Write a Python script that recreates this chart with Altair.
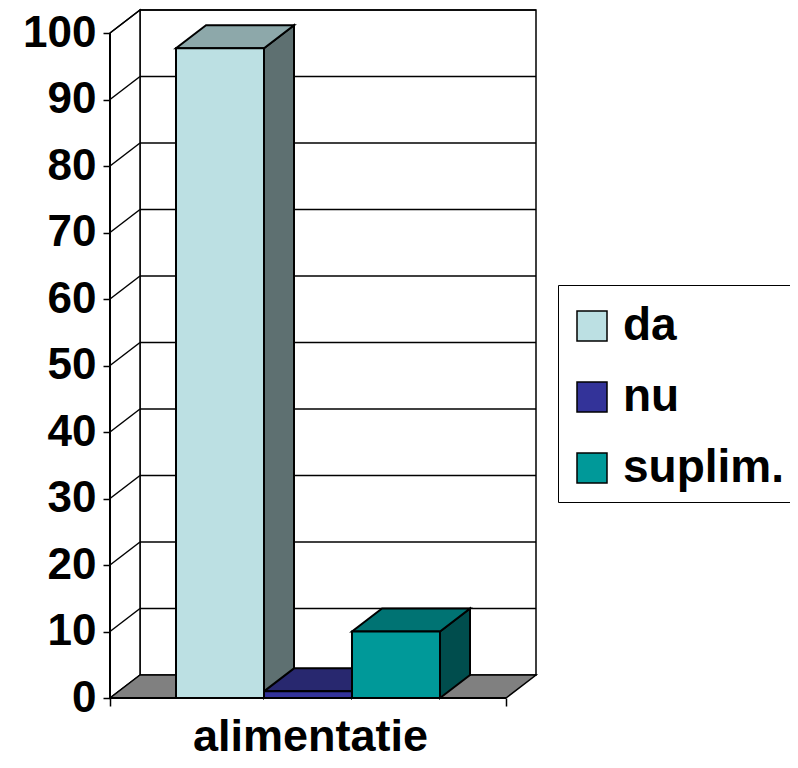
import altair as alt
import pandas as pd

# ---- data ----
category = "alimentatie"
series = ["da", "nu", "suplim."]
values = [97.7, 1.0, 10.0]
front_colors = ["#BCE0E3", "#333399", "#009999"]
top_colors = ["#8DA8AA", "#28286F", "#007373"]
side_colors = ["#5E7071", "#1C1C50", "#004D4D"]
y_ticks = list(range(0, 101, 10))

# ---- layout constants (x in pixel units, y in value units) ----
PX_PER_UNIT = 6.65
FLOOR_W = 396
DX = 30
DY = 23 / PX_PER_UNIT
Y_MAX = 100 + DY
PLOT_W = FLOOR_W + DX
PLOT_H = Y_MAX * PX_PER_UNIT
BAR_W = FLOOR_W / 4.5
GAP = 0.75 * BAR_W
FONT = "Liberation Sans"
BLACK = "black"

xs = alt.Scale(domain=[0, PLOT_W], nice=False, zero=False)
ys = alt.Scale(domain=[0, Y_MAX], nice=False, zero=False)

AX = alt.Axis(
    values=[0, FLOOR_W], labels=False, domain=False, grid=False,
    ticks=True, tickSize=8, tickColor=BLACK, tickWidth=1.5,
    title=category, titleFont=FONT, titleFontSize=45, titleFontWeight="bold",
    titleColor=BLACK, titleX=200, titleY=52, titleBaseline="alphabetic", titleAlign="center")
AY = alt.Axis(
    values=y_ticks, domain=False, grid=False, ticks=True, tickSize=7,
    tickColor=BLACK, tickWidth=1.5, labelFont=FONT, labelFontSize=44,
    labelFontWeight="bold", labelColor=BLACK, labelPadding=7, title=None)


def X(field):
    return alt.X(field, scale=xs, axis=AX, title=category)


def Y(field):
    return alt.Y(field, scale=ys, axis=AY, title=None)


# geometry tables derived from the values
front_rows, top_rows, side_rows = [], [], []
for i, (s, v) in enumerate(zip(series, values)):
    x0 = GAP + i * BAR_W
    x1 = x0 + BAR_W
    front_rows.append({"series": s, "x0": x0, "x1": x1, "y0": 0, "y1": v})
    top_rows.append({"series": s, "col": top_colors[i], "y": v, "xa": x0, "xb": x1})
    top_rows.append({"series": s, "col": top_colors[i], "y": v + DY, "xa": x0 + DX, "xb": x1 + DX})
    side_rows.append({"series": s, "col": side_colors[i], "x": x1, "ya": 0, "yb": v})
    side_rows.append({"series": s, "col": side_colors[i], "x": x1 + DX, "ya": DY, "yb": v + DY})

front_df = pd.DataFrame(front_rows)
top_df = pd.DataFrame(top_rows)
side_df = pd.DataFrame(side_rows)

wall_df = pd.DataFrame([{"x0": DX, "x1": PLOT_W, "y0": DY, "y1": 100 + DY}])
left_wall_df = pd.DataFrame([
    {"x": 0, "ya": 0, "yb": 100},
    {"x": DX, "ya": DY, "yb": 100 + DY},
])
floor_df = pd.DataFrame([
    {"y": 0, "xa": 0, "xb": FLOOR_W},
    {"y": DY, "xa": DX, "xb": PLOT_W},
])
grid_df = pd.DataFrame([{"v": t, "x0": 0, "x1": DX, "x2": PLOT_W, "yf": t, "yb": t + DY} for t in y_ticks if t > 0])
axis_df = pd.DataFrame([{"x0": 0, "x1": FLOOR_W, "y0": 0, "y1": 100}])

back = alt.Chart(wall_df).mark_rect(fill="white", stroke=BLACK, strokeWidth=1.5).encode(
    x=X("x0:Q"), x2="x1:Q", y=Y("y0:Q"), y2="y1:Q",
)

back_grid = alt.Chart(grid_df).mark_rule(color=BLACK, strokeWidth=1.5).encode(
    x=X("x1:Q"), x2="x2:Q", y=Y("yb:Q"),
)

left_wall = alt.Chart(left_wall_df).mark_area(
    orient="vertical", fill="white", stroke=BLACK, strokeWidth=1.5).encode(
    x=X("x:Q"), y=Y("ya:Q"), y2="yb:Q",
)

diag = alt.Chart(grid_df).mark_rule(color=BLACK, strokeWidth=1.5).encode(
    x=X("x0:Q"), x2="x1:Q", y=Y("yf:Q"), y2="yb:Q",
)

floor = alt.Chart(floor_df).mark_area(
    orient="horizontal", fill="#808080", stroke=BLACK, strokeWidth=1.5).encode(
    y=Y("y:Q"), x=X("xa:Q"), x2="xb:Q",
)

front_axis = alt.Chart(axis_df).mark_rule(color=BLACK, strokeWidth=2).encode(
    x=X("x0:Q"), y=Y("y0:Q"), y2="y1:Q",
)
bottom_axis = alt.Chart(axis_df).mark_rule(color=BLACK, strokeWidth=2).encode(
    x=X("x0:Q"), x2="x1:Q", y=Y("y0:Q"),
)

sides = alt.Chart(side_df).mark_area(orient="vertical", stroke=BLACK, strokeWidth=2).encode(
    x=X("x:Q"), y=Y("ya:Q"), y2="yb:Q",
    fill=alt.Fill("col:N", scale=None, legend=None),
    detail="series:N",
)

tops = alt.Chart(top_df).mark_area(orient="horizontal", stroke=BLACK, strokeWidth=2).encode(
    y=Y("y:Q"), x=X("xa:Q"), x2="xb:Q",
    fill=alt.Fill("col:N", scale=None, legend=None),
    detail="series:N",
)

fronts = alt.Chart(front_df).mark_rect(stroke=BLACK, strokeWidth=2, opacity=1).encode(
    x=X("x0:Q"), x2="x1:Q", y=Y("y0:Q"), y2="y1:Q",
    color=alt.Color("series:N", scale=alt.Scale(domain=series, range=front_colors),
                    legend=alt.Legend(
                        title=" ", titleFontSize=1, titlePadding=6,
                        orient="none", legendX=448, legendY=275,
                        symbolType="square", symbolSize=900, symbolStrokeColor=BLACK,
                        symbolStrokeWidth=1.5, symbolOpacity=1,
                        labelFont=FONT, labelFontSize=46, labelFontWeight="bold",
                        labelColor=BLACK, labelOffset=8, labelLimit=400,
                        rowPadding=25, padding=11, strokeColor=BLACK, fillColor="white")),
)

chart = alt.layer(
    back, back_grid, left_wall, diag, floor, front_axis, bottom_axis, sides, tops, fronts
).properties(
    width=PLOT_W, height=PLOT_H,
    autosize=alt.AutoSizeParams(type="none"),
    padding={"left": 102, "top": 2, "right": 254, "bottom": 62},
    background="white",
).configure_view(stroke=None)

chart.save("out.html", embed_options={"renderer": "svg", "actions": False})
